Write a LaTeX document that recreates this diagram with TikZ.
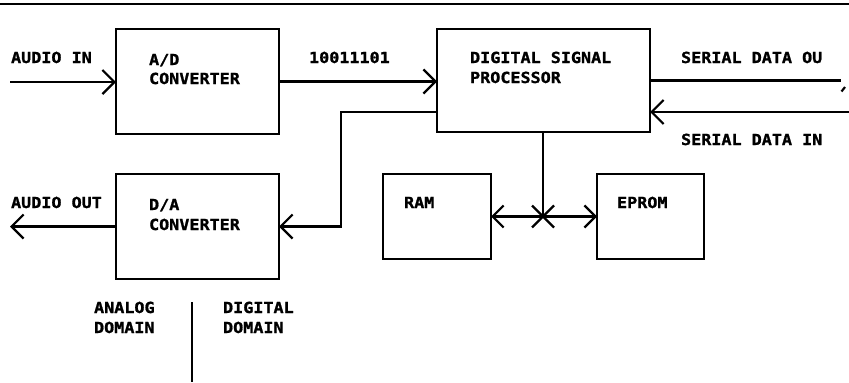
\documentclass[tikz,border=0pt]{standalone}
\usepackage{fontspec}
\newfontfamily\plotfont[FakeStretch=1.1,BoldFeatures={FakeBold=1.2}]{DejaVu Sans Mono}
\usetikzlibrary{arrows.meta}
\begin{document}
\begin{tikzpicture}[x=0.03cm,y=-0.03cm,
  line width=0.065cm,
  box/.style={draw,rectangle,inner sep=0pt,outer sep=0pt},
  lbl/.style={anchor=base west,inner sep=0pt,font=\plotfont\bfseries\fontsize{13}{14}\selectfont},
  tip/.style={-{Straight Barb[length=0.36cm 0,width=0.72cm 0,line width=0.065cm]}},
  tips/.style={{Straight Barb[length=0.33cm 0,width=0.66cm 0,line width=0.065cm]}-{Straight Barb[length=0.33cm 0,width=0.66cm 0,line width=0.065cm]}}]
\useasboundingbox (0,0) rectangle (849,382);
% top rule
\coordinate (tl) at (0,4);
\coordinate (tr) at (849,4);
\draw (tl) -- (tr);
% boxes
\node[box,minimum width=163*0.03cm,minimum height=105*0.03cm] (ad) at (197.5,81.5) {};
\node[box,minimum width=163*0.03cm,minimum height=105*0.03cm] (da) at (197.5,226.5) {};
\node[box,minimum width=213*0.03cm,minimum height=103*0.03cm] (dsp) at (543.5,80.5) {};
\node[box,minimum width=108*0.03cm,minimum height=85*0.03cm] (ram) at (437,216.5) {};
\node[box,minimum width=107*0.03cm,minimum height=85*0.03cm] (eprom) at (650.5,216.5) {};
% texts
\node[lbl] (t1) at (10,63) {AUDIO IN};
\node[lbl] (t2) at (148,65) {A/D};
\node[lbl] (t3) at (148,84) {CONVERTER};
\node[lbl] (t4) at (308,63) {10011101};
\node[lbl] (t5) at (469,63) {DIGITAL SIGNAL};
\node[lbl] (t6) at (469,83) {PROCESSOR};
\node[lbl] (t7) at (680,63) {SERIAL DATA OU};
\node[lbl] (t8) at (680,145) {SERIAL DATA IN};
\node[lbl] (t9) at (10,208) {AUDIO OUT};
\node[lbl] (t10) at (148,210) {D/A};
\node[lbl] (t11) at (148,230) {CONVERTER};
\node[lbl] (t12) at (403,208) {RAM};
\node[lbl] (t13) at (616,208) {EPROM};
\node[lbl] (t14) at (93,313) {ANALOG};
\node[lbl] (t15) at (93,333) {DOMAIN};
\node[lbl] (t16) at (222,313) {DIGITAL};
\node[lbl] (t17) at (222,333) {DOMAIN};
% connector points
\coordinate (ain) at (10,82);
\coordinate (aout) at (10,226.5);
\coordinate (sout) at (841,80.5);
\coordinate (sin) at (849,112);
\coordinate (j1) at (341,112);
\coordinate (bus) at (543,216.5);
\coordinate (dv1) at (192,302);
\coordinate (dv2) at (192,382);
\coordinate (tk1) at (841.5,91.5);
\coordinate (tk2) at (845,87);
% connectors
\draw[tip] (ain) -- (ain -| ad.west);
\draw[tip] (ad.east) -- (ad.east -| dsp.west);
\draw[tip] (j1 -| dsp.west) -- (j1) |- (da.east);
\draw[tip] (da.west) -- (aout);
\draw (dsp.east) -- (dsp.east -| sout);
\draw (tk1) -- (tk2);
\draw[tip] (sin) -- (sin -| dsp.east);
\draw (bus |- dsp.south) -- (bus);
\draw[tips] (ram.east) -- (eprom.west);
\draw ([shift={(-11,-11)}]bus) -- ([shift={(11,11)}]bus);
\draw ([shift={(-11,11)}]bus) -- ([shift={(11,-11)}]bus);
\draw (dv1) -- (dv2);
\end{tikzpicture}
\end{document}
